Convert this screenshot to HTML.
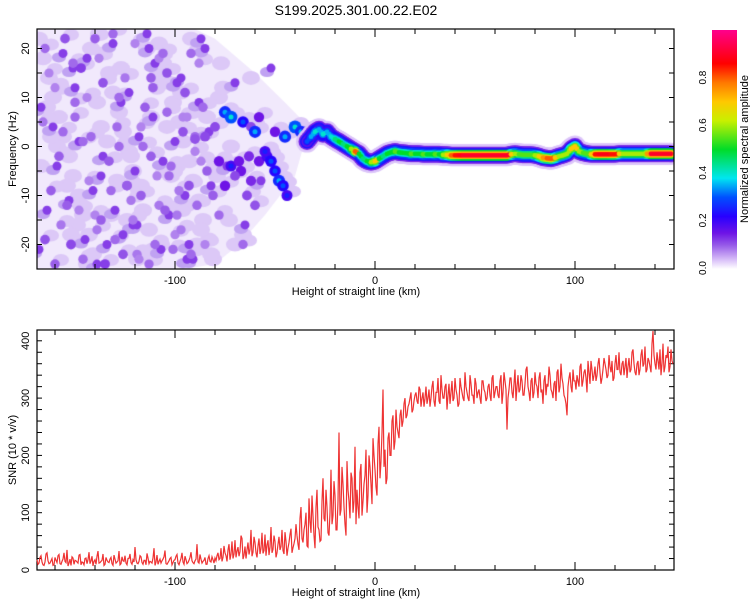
<!DOCTYPE html>
<html><head><meta charset="utf-8"><style>
body{margin:0;background:#fff;width:750px;height:600px;overflow:hidden;position:relative;font-family:"Liberation Sans",sans-serif}
canvas{position:absolute}
svg{position:absolute;left:0;top:0}
</style></head><body>
<canvas id="hm" width="637" height="240" style="left:37px;top:29px"></canvas>
<svg id="s" width="750" height="600">
<defs><linearGradient id="cb" x1="0" y1="1" x2="0" y2="0">
<stop offset="0" stop-color="#fff"/><stop offset="0.03" stop-color="#e1cdfa"/><stop offset="0.1" stop-color="#965ae8"/><stop offset="0.15" stop-color="#6e14e6"/><stop offset="0.22" stop-color="#2800ff"/><stop offset="0.3" stop-color="#0050ff"/><stop offset="0.38" stop-color="#00e6f0"/><stop offset="0.5" stop-color="#00dc28"/><stop offset="0.62" stop-color="#c8f000"/><stop offset="0.7" stop-color="#ffc800"/><stop offset="0.78" stop-color="#ff7800"/><stop offset="0.86" stop-color="#ff0000"/><stop offset="1" stop-color="#ff008c"/>
</linearGradient></defs>
<text x="356" y="15" font-size="14" text-anchor="middle">S199.2025.301.00.22.E02</text>
<g id="top"></g>
<g id="bot"></g>
<rect x="712" y="30" width="25" height="239" fill="url(#cb)"/>
<text transform="translate(748,149) rotate(-90)" font-size="11" text-anchor="middle">Normalized spectral amplitude</text>
<g id="cbt"></g>
</svg>
<script>
// ---------- data ----------
const snrStart=-169, snrEnd=149;
const snrValues=[18,12,25,9,14,30,11,16,8,22,13,27,10,19,15,35,12,8,21,17,14,26,9,13,20,11,31,16,7,18,24,12,15,28,10,17,13,22,8,19,14,33,11,16,25,9,20,13,18,40,12,15,23,10,17,29,11,14,21,8,26,15,12,19,34,10,16,22,13,18,27,9,20,14,24,11,17,31,13,16,45,12,19,15,22,10,25,14,18,21,
25,18,38,22,30,15,45,28,20,52,33,24,60,19,41,35,27,70,31,48,22,55,38,29,62,44,26,75,36,50,30,58,41,34,66,25,48,72,39,55,
60,35,110,48,80,42,125,65,95,38,140,70,52,160,85,110,60,175,95,130,70,240,105,150,80,190,120,170,100,215,
140,90,185,120,165,100,200,150,230,175,130,250,190,315,210,160,240,200,270,225,
250,230,280,260,300,270,290,310,280,305,295,320,285,310,300,
290,315,300,330,285,310,295,340,300,320,280,325,310,295,335,305,290,320,300,345,310,295,325,305,335,300,315,290,330,310,300,325,295,340,310,
320,300,340,310,330,245,315,335,300,350,320,310,340,305,325,355,310,330,300,345,320,335,310,290,340,325,355,315,300,330,345,310,360,325,300,270,335,320,350,330,
340,320,360,330,350,310,345,365,330,355,340,370,325,350,360,335,375,345,330,360,350,380,340,365,355,335,370,350,385,345,360,340,375,355,390,350,365,345,420,360,380,350,340,395,355,370,345,385,360];
const snrValuesB=[10,22,14,8,28,16,12,20,9,17,25,11,15,30,13,7,19,23,10,16,12,27,14,9,21,18,11,24,15,10,33,13,17,8,22,14,19,11,26,12,16,9,23,15,12,20,28,10,14,18,11,25,13,17,9,21,15,12,38,14,10,19,16,23,11,13,20,9,17,24,12,15,30,10,18,13,22,16,11,19,14,27,12,17,10,20,15,23,12,16,
30,20,15,42,25,35,18,50,28,22,40,32,55,26,20,48,36,24,58,30,42,28,65,34,25,52,40,30,60,22,45,35,70,28,50,38,62,30,46,80,
45,90,55,70,100,40,85,130,60,110,75,50,120,90,140,65,100,80,155,70,120,95,180,110,60,140,90,160,120,80,
110,170,95,150,210,130,180,115,200,145,220,160,240,180,150,230,200,260,210,280,
240,270,250,290,265,285,300,275,295,310,290,315,300,285,320,
300,285,320,295,310,335,290,315,300,325,305,290,330,300,315,285,335,310,295,320,300,340,305,290,325,310,300,330,315,295,320,305,335,300,320,
305,330,290,345,315,300,335,310,325,295,340,315,330,305,350,320,295,335,310,325,300,345,315,330,305,320,340,310,325,295,350,320,335,305,290,320,345,310,330,315,
330,355,320,345,335,365,325,350,340,330,360,345,335,370,350,340,355,365,335,375,350,345,360,340,370,355,345,380,360,340,365,350,385,360,345,370,355,395,375,350,365,385,360,345,375,390,355,365,350];
const ridgeX=[-34,-32,-30,-28,-26,-24,-22,-20,-18,-16,-14,-12,-10,-8,-6,-4,-2,0,2,4,6,8,10,12,14,16,18,20,22,24,26,28,30,32,34,36,38,40,42,44,46,48,50,52,54,56,58,60,62,64,66,68,70,72,74,76,78,80,82,84,86,88,90,92,94,96,98,100,102,104,106,108,110,112,114,116,118,120,122,124,126,128,130,132,134,136,138,140,142,144,146,148];
const ridgeF=[1,2,3,3.5,2.5,3,2,1.5,1,0.5,0,-0.5,-1,-1.5,-2.5,-3,-3.2,-3,-2.5,-2,-1.5,-1.2,-1,-1.2,-1.3,-1.4,-1.5,-1.5,-1.5,-1.6,-1.6,-1.6,-1.6,-1.6,-1.7,-1.7,-1.8,-1.8,-1.8,-1.8,-1.8,-1.8,-1.8,-1.8,-1.8,-1.8,-1.8,-1.8,-1.8,-1.8,-1.8,-1.6,-1.5,-1.6,-1.7,-1.7,-1.7,-1.8,-2,-2.3,-2.4,-2.5,-2.3,-2,-1.8,-1.5,-0.5,0,-1,-1.3,-1.5,-1.6,-1.6,-1.6,-1.6,-1.6,-1.6,-1.6,-1.5,-1.5,-1.5,-1.5,-1.5,-1.5,-1.5,-1.5,-1.5,-1.5,-1.5,-1.5,-1.5,-1.5];
const ridgeA=[0.3,0.35,0.4,0.35,0.4,0.35,0.4,0.45,0.5,0.45,0.5,0.6,0.8,0.5,0.45,0.5,0.6,0.7,0.5,0.45,0.5,0.5,0.55,0.5,0.5,0.5,0.55,0.5,0.5,0.55,0.5,0.5,0.55,0.5,0.6,0.7,0.8,0.85,0.88,0.9,0.9,0.9,0.9,0.9,0.9,0.9,0.9,0.9,0.9,0.9,0.9,0.7,0.6,0.55,0.55,0.55,0.55,0.6,0.7,0.75,0.8,0.8,0.7,0.6,0.6,0.6,0.7,0.7,0.6,0.55,0.55,0.7,0.85,0.88,0.88,0.88,0.85,0.85,0.7,0.6,0.6,0.6,0.6,0.6,0.6,0.75,0.9,0.9,0.9,0.9,0.9,0.9];
const blobX=[-165,-160,-155,-150,-147,-142,-138,-133,-128,-124,-120,-116,-112,-108,-104,-100,-96,-92,-88,-84,-162,-157,-152,-146,-140,-135,-130,-126,-121,-117,-113,-109,-105,-101,-97,-93,-89,-85,-81,-78,-166,-158,-150,-143,-136,-129,-122,-115,-108,-102,-95,-90,-86,-163,-154,-146,-139,-131,-124,-117,-110,-104,-98,-92,-87,-160,-151,-144,-137,-128,-119,-111,-103,-96,-90,-165,-156,-148,-140,-132,-125,-118,-112,-106,-99,-94,
-75,-72,-80,-85,-90,-66,-62,-58,-60,-50,-45,-40,-37,-34,-78,-72,-68,-63,-58,-54,-50,-48,-46,-44,-62,-67,-70,-75,-55,-52,-64,-60,-66];
const blobF=[20,12,22,6,16,2,18,-3,10,-8,21,0,14,-12,7,-18,3,-22,17,-5,-9,-16,-20,-23,-14,-24,-19,-22,-15,-10,-24,-6,-13,-21,-17,-8,-12,-20,-10,-14,5,-2,9,-7,13,4,-11,8,18,-4,11,-1,8,15,-12,1,-17,23,-8,4,-20,15,-9,19,-3,-24,17,10,-15,0,-22,12,-6,6,2,-19,3,-13,22,-9,14,-23,-2,19,-14,6,
7,6,4,2,1.5,5,4,6,3,3,2,4,3,3,-3,-4,-3,-2,-3,-2,-5,-7,-8,-10,-7,-5,-6,-8,-1,-3,-10,-12,-20];
const blobA=[0.12,0.1,0.14,0.12,0.16,0.12,0.1,0.13,0.12,0.14,0.1,0.12,0.13,0.11,0.12,0.1,0.14,0.12,0.1,0.13,0.13,0.11,0.15,0.12,0.1,0.16,0.12,0.14,0.11,0.13,0.12,0.1,0.13,0.12,0.11,0.14,0.12,0.1,0.13,0.12,0.11,0.13,0.12,0.1,0.14,0.12,0.11,0.13,0.1,0.12,0.14,0.1,0.12,0.1,0.13,0.12,0.11,0.12,0.13,0.1,0.12,0.14,0.11,0.12,0.1,0.13,0.12,0.1,0.13,0.12,0.11,0.13,0.12,0.1,0.12,0.14,0.12,0.1,0.13,0.12,0.11,0.1,0.13,0.12,0.11,0.1,
0.35,0.4,0.15,0.15,0.14,0.3,0.15,0.2,0.35,0.2,0.35,0.4,0.35,0.3,0.2,0.25,0.2,0.18,0.2,0.25,0.3,0.35,0.3,0.25,0.18,0.2,0.15,0.2,0.25,0.3,0.15,0.14,0.12];
const darkX=[-167,-159,-151,-145,-137,-131,-123,-119,-111,-107,-99,-95,-87,-83,-164,-156,-148,-141,-134,-127,-120,-114,-106,-97,-91,-85,-161,-153,-144,-136,-126,-118,-110,-103,-93,-88,-168,-150,-139,-130,-121,-113,-100,-94,-82,-74,-70,-65,-57,-52];
const darkF=[8,-4,16,-19,-6,21,11,-16,6,-21,13,-10,22,3,-13,19,1,-9,-20,9,-5,23,-3,14,-23,20,4,-11,18,-2,-18,2,17,-14,-20,9,-21,12,-24,-13,-16,20,1,-23,-8,-4,13,-16,-7,16];
const lightX=[-168,-163,-158,-153,-148,-143,-138,-133,-128,-123,-118,-113,-108,-103,-98,-93,-88,-83,-78,-73,-166,-161,-156,-151,-146,-141,-136,-131,-126,-121,-116,-111,-106,-101,-96,-91,-86,-81,-76,-70,-164,-159,-154,-149,-144,-139,-134,-129,-124,-119,-114,-109,-104,-99,-94,-89,-84,-79,-66,-62,-167,-157,-147,-137,-127,-117,-107,-97,-87,-77,-162,-152,-142,-132,-122,-112,-102,-92,-82,-72];
const lightF=[22,14,6,-2,-10,-18,23,15,7,-1,-9,-17,21,13,5,-3,-11,-19,10,-15,18,10,2,-6,-14,-22,19,11,3,-5,-13,-21,17,9,1,-7,-15,-23,12,-20,8,0,-8,-16,-24,9,1,-7,-15,-23,20,12,4,-4,-12,-20,6,-6,-18,14,-4,12,-12,4,16,-8,-20,11,-17,17,2,-18,20,-14,-2,6,-6,22,-22,0];
const hazeX=[-169,-90,-80,-60,-45,-33,-40,-55,-68,-80,-95,-169];
const hazeF=[24,24,22,15,9,4,-6,-14,-20,-24,-25,-25];
// ---------- scales ----------
const X=km=>375+km*2.0;
const YT=hz=>146.5-hz*4.9;
const YB=v=>570-v*0.573;
function cmap(a){
 const s=[[0,255,255,255],[0.03,225,205,250],[0.1,150,90,232],[0.15,110,20,230],[0.22,40,0,255],[0.3,0,80,255],[0.38,0,230,240],[0.5,0,220,40],[0.62,200,240,0],[0.7,255,200,0],[0.78,255,120,0],[0.86,255,0,0],[1,255,0,140]];
 a=Math.max(0,Math.min(1,a));
 for(let i=1;i<s.length;i++){if(a<=s[i][0]){const t=(a-s[i-1][0])/(s[i][0]-s[i-1][0]);const c=[1,2,3].map(k=>Math.round(s[i-1][k]+t*(s[i][k]-s[i-1][k])));return `rgb(${c})`;}}
 return 'rgb(255,0,140)';
}
// ---------- heatmap ----------
const cv=document.getElementById('hm'),ctx=cv.getContext('2d');
ctx.translate(-37,-29);
ctx.fillStyle='#f1e9fc';
ctx.beginPath();hazeX.forEach((x,i)=>{i?ctx.lineTo(X(x),YT(hazeF[i])):ctx.moveTo(X(x),YT(hazeF[i]));});ctx.fill();
ctx.fillStyle='#dcc8f7';
const nl=Math.min(lightX.length,lightF.length);
for(let i=0;i<nl;i++){ctx.beginPath();ctx.ellipse(X(lightX[i]),YT(lightF[i]),9,7,0,0,7);ctx.fill();}
blobX.forEach((x,i)=>{ctx.beginPath();ctx.ellipse(X(x)+6,YT(blobF[i])-4,8,6,0,0,7);ctx.fill();});
ctx.fillStyle='#c0a2f2';
darkX.forEach((x,i)=>{ctx.beginPath();ctx.ellipse(X(x)-4,YT(darkF[i])+4,7,5,0,0,7);ctx.fill();});
darkX.forEach((x,i)=>{ctx.fillStyle=cmap(0.12);ctx.beginPath();ctx.arc(X(x),YT(darkF[i]),4.5,0,7);ctx.fill();});
blobX.forEach((x,i)=>{const a=blobA[i];ctx.fillStyle=cmap(a*0.75);ctx.beginPath();ctx.arc(X(x),YT(blobF[i]),4+a*6,0,7);ctx.fill();
 if(a>0.2){ctx.fillStyle=cmap(a);ctx.beginPath();ctx.arc(X(x),YT(blobF[i]),2.5,0,7);ctx.fill();}});
const layers=[[11,()=>0.035],[8.5,()=>0.14],[7,()=>0.24],[5.5,a=>a*0.55],[3.8,a=>a*0.8],[2.4,a=>a]];
layers.forEach(([r,f])=>{ridgeX.forEach((x,i)=>{ctx.fillStyle=cmap(f(ridgeA[i]));ctx.beginPath();ctx.arc(X(x),YT(ridgeF[i]),r,0,7);ctx.fill();
 if(i+1<ridgeX.length){ctx.beginPath();ctx.arc((X(x)+X(ridgeX[i+1]))/2,(YT(ridgeF[i])+YT(ridgeF[i+1]))/2,r,0,7);ctx.fill();}});});
// ---------- axes ----------
const NS='http://www.w3.org/2000/svg';
function el(p,t,at,txt){const e=document.createElementNS(NS,t);for(const k in at)e.setAttribute(k,at[k]);if(txt!==undefined)e.textContent=txt;p.appendChild(e);return e;}
function frame(g,top,bot,yTicks,yLab,yScale,yName,minorY){
 const r=el(g,'rect',{x:37,y:top,width:637,height:bot-top,fill:'none',stroke:'#000','stroke-width':1.2});
 
 
 for(let k=-160;k<=140;k+=20){const x=X(k);const L=(k%100===0)?8:5;
  el(g,'line',{x1:x,y1:bot,x2:x,y2:bot-L,stroke:'#000'});el(g,'line',{x1:x,y1:top,x2:x,y2:top+L,stroke:'#000'});}
 [-100,0,100].forEach(k=>{const t=el(g,'text',{x:X(k),y:bot+15,'font-size':11,'text-anchor':'middle'},String(k));
  
  });
 const xt=el(g,'text',{x:356,y:bot+26,'font-size':11,'text-anchor':'middle'},'Height of straight line (km)');
 
 
 minorY.forEach(v=>{const y=yScale(v);el(g,'line',{x1:37,y1:y,x2:42,y2:y,stroke:'#000'});el(g,'line',{x1:674,y1:y,x2:669,y2:y,stroke:'#000'});});
 yTicks.forEach(v=>{const y=yScale(v);const t=el(g,'text',{transform:`translate(29,${y}) rotate(-90)`,'font-size':11,'text-anchor':'middle'},String(v));
  
  });
 const yt=el(g,'text',{transform:`translate(16,${(top+bot)/2}) rotate(-90)`,'font-size':11,'text-anchor':'middle'},yLab);
 
 
}
const freqTicks=[-20,-10,0,10,20];
const snrTicks=[0,100,200,300,400];
frame(document.getElementById('top'),29,269,freqTicks,'Frequency (Hz)',YT,'y-axis-title',[-25,-20,-15,-10,-5,0,5,10,15,20]);
frame(document.getElementById('bot'),330,570,snrTicks,'SNR (10 * v/v)',YB,'snr-axis-title',[0,20,40,60,80,100,120,140,160,180,200,220,240,260,280,300,320,340,360,380,400]);
// SNR line: interleave the two sampled series
const stepA=(snrEnd-snrStart)/(snrValues.length-1);
const stepB=(snrEnd-snrStart)/(snrValuesB.length-1);
const merged=[];
snrValues.forEach((v,i)=>{merged.push([snrStart+i*stepA,v]);if(i<snrValuesB.length)merged.push([snrStart+(i+0.5)*stepB,snrValuesB[i]]);});
merged.sort((a,b)=>a[0]-b[0]);
const pts=merged.filter(p=>p[0]<=snrEnd).map(p=>`${X(p[0]).toFixed(1)},${Math.max(331,YB(p[1])).toFixed(1)}`).join(' ');
const pl=el(document.getElementById('bot'),'polyline',{points:pts,fill:'none',stroke:'#ee3333','stroke-width':1.2});


// colorbar ticks
const cbTicks=[0,0.2,0.4,0.6,0.8];
const cbg=document.getElementById('cbt');
const CY=v=>268-v*238;
cbTicks.forEach(v=>{const t=el(cbg,'text',{transform:`translate(706,${CY(v)}) rotate(-90)`,'font-size':10,'text-anchor':'middle'},v.toFixed(1));
 
 });
</script>
</body></html>
